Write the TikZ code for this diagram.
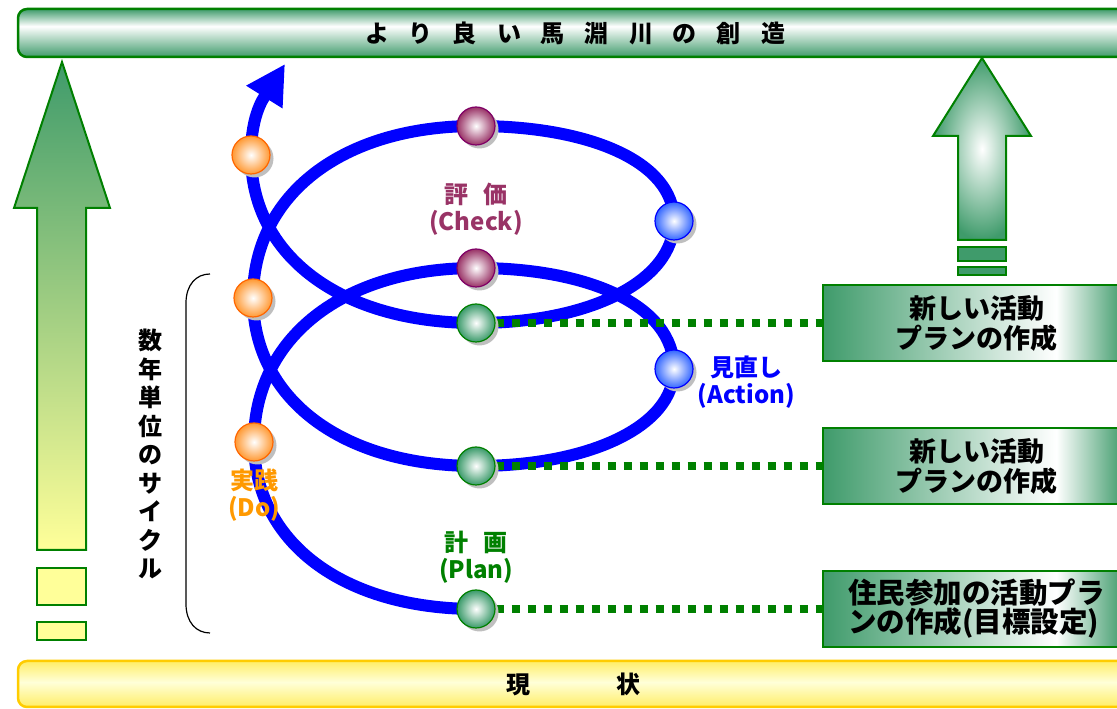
\documentclass[tikz,border=0pt]{standalone}
\usepackage{fontspec}
\setmainfont{Noto Sans CJK JP}
\usetikzlibrary{arrows.meta,positioning,shadows}

\definecolor{leaf}{HTML}{3F9B6B}
\definecolor{rim}{HTML}{008000}
\definecolor{lemon}{HTML}{FFFF99}
\definecolor{gold}{HTML}{FFCC00}
\definecolor{butter}{HTML}{FFEE66}
\definecolor{spiral}{HTML}{0000FF}
\definecolor{dofill}{HTML}{FF9933}
\definecolor{doedge}{HTML}{FF6600}
\definecolor{ckfill}{HTML}{993366}
\definecolor{ckedge}{HTML}{800066}
\definecolor{acfill}{HTML}{3366FF}
\definecolor{acedge}{HTML}{0000FF}
\definecolor{plfill}{HTML}{3A9A6A}
\definecolor{pledge}{HTML}{008000}
\definecolor{dotext}{HTML}{FF9900}

\pgfdeclareverticalshading{goalfade}{100bp}{color(0bp)=(leaf); color(25bp)=(leaf); color(57bp)=(white); color(75bp)=(leaf); color(100bp)=(leaf)}
\pgfdeclareverticalshading{nowfade}{100bp}{color(0bp)=(butter); color(25bp)=(butter); color(52bp)=(white!85!yellow); color(75bp)=(butter); color(100bp)=(butter)}
\pgfdeclarehorizontalshading{planfade}{100bp}{color(0bp)=(leaf); color(25bp)=(leaf); color(63bp)=(white); color(74bp)=(leaf); color(100bp)=(leaf)}

\pgfdeclarelayer{bg}
\pgfdeclarelayer{mid}
\pgfsetlayers{bg,mid,main}

\newcommand{\tgap}{\hspace{20pt}}

\tikzset{
  goalbar/.style={draw=rim, line width=2.5pt, rounded corners=9pt, shading=goalfade, minimum width=1114pt, minimum height=48pt, inner sep=0pt, font=\bfseries\fontsize{24}{28}\selectfont},
  nowbar/.style={draw=gold, line width=2.5pt, rounded corners=9pt, shading=nowfade, minimum width=1110pt, minimum height=46pt, inner sep=0pt, font=\bfseries\fontsize{24}{28}\selectfont},
  planbox/.style={draw=rim, line width=2pt, shading=planfade, minimum width=307pt, minimum height=76pt, inner sep=0pt, align=center, font=\bfseries\fontsize{27}{30}\selectfont},
  ball/.style={circle, minimum size=38pt, inner sep=0pt, line width=1.2pt, drop shadow={shadow xshift=3.5pt, shadow yshift=-3.5pt, fill=black!25, opacity=1}},
  doball/.style={ball, draw=doedge, inner color=white, outer color=dofill},
  ckball/.style={ball, draw=ckedge, inner color=white, outer color=ckfill},
  acball/.style={ball, draw=acedge, inner color=white, outer color=acfill},
  plball/.style={ball, draw=pledge, inner color=white, outer color=plfill},
  tag/.style={inner sep=1pt, align=center, font=\bfseries\fontsize{24}{27}\selectfont},
  coil/.style={draw=spiral, line width=12pt},
  dots/.style={draw=rim, line width=8pt, dash pattern=on 8pt off 8pt},
  bigarrow/.style={draw=rim, line width=2pt, line join=miter}
}

\begin{document}
\begin{tikzpicture}[x=1pt,y=1pt]
  \useasboundingbox (0,0) rectangle (1117,709);
  \clip (0,0) rectangle (1117,709);

  % goal and present state
  \node[goalbar] (goal) at (575,676) {よ\tgap り\tgap 良\tgap い\tgap 馬\tgap 淵\tgap 川\tgap の\tgap 創\tgap 造};
  \node[nowbar] (now) at (573,25) {現\hspace{86pt}状};

  % left arrow
  \draw[bigarrow, top color=leaf, bottom color=lemon] (62,647) -- (110,501) -- (86,501) -- (86,159) -- (37,159) -- (37,501) -- (14,501) -- cycle;
  \draw[bigarrow, fill=lemon] (37,104) rectangle (86,141);
  \draw[bigarrow, fill=lemon] (37,69) rectangle (86,87);

  % right arrow
  \draw[bigarrow, inner color=white, outer color=leaf] (982,651) -- (1031,573) -- (1006,573) -- (1006,469) -- (958,469) -- (958,573) -- (933,573) -- cycle;
  \draw[bigarrow, fill=leaf] (958,448) rectangle (1006,462);
  \draw[bigarrow, fill=leaf] (958,434) rectangle (1006,442);

  % plan boxes
  \node[planbox] (plan1) at (976.5,386) {新しい活動\\プランの作成};
  \node[planbox] (plan2) at (976.5,243) {新しい活動\\プランの作成};
  \node[planbox, align=left, font=\bfseries\fontsize{28.5}{29}\selectfont] (plan3) at (976.5,100) {住民参加の活動プラ\\ンの作成(目標設定)};

  % cycle bracket
  \draw[line width=1.2pt] (210,435) .. controls (196,435) and (186,424) .. (186,406) -- (186,105) .. controls (186,87) and (196,76) .. (210,76);
  \node[font=\bfseries\fontsize{24}{28.5}\selectfont, align=center, inner sep=0pt] (span) at (150,255) {数\\年\\単\\位\\の\\サ\\イ\\ク\\ル};

  % balls
  \node[doball] (o1) at (251,554) {};
  \node[doball] (o2) at (253,411) {};
  \node[doball] (o3) at (254,267) {};
  \node[ckball] (p1) at (476,583) {};
  \node[ckball] (p2) at (476,441) {};
  \node[acball] (b1) at (674,488) {};
  \node[acball] (b2) at (674,340) {};
  \node[plball] (g1) at (476,386) {};
  \node[plball] (g2) at (476,243) {};
  \node[plball] (g3) at (476,100) {};
  \coordinate (tip) at (285,645);

  % labels
  \node[tag, text=ckfill, below=36pt of p1] (check) {評\hspace{16pt}価\\(Check)};
  \node[tag, text=spiral, right=3pt of b2, yshift=-13pt] (action) {見直し\\(Action)};
  \node[tag, text=dotext, below=6pt of o3] (do) {実践\\(Do)};
  \node[tag, text=rim, above=5pt of g3] (plan) {計\hspace{16pt}画\\(Plan)};

  % spiral
  \begin{pgfonlayer}{bg}
    \draw[coil, -{Triangle[length=39pt,width=40pt]}] (g3.center)
      .. controls +(-133,0) and +(0,-100) .. (o3.center)
      .. controls +(0,104) and +(-133,0) .. (p2.center)
      .. controls +(112,0) and +(0,64) .. (b2.center)
      .. controls +(0,-58) and +(112,0) .. (g2.center)
      .. controls +(-134,0) and +(0,-101) .. (o2.center)
      .. controls +(0,103) and +(-134,0) .. (p1.center)
      .. controls +(112,0) and +(0,60) .. (b1.center)
      .. controls +(0,-61) and +(112,0) .. (g1.center)
      .. controls +(-135,0) and +(0,-101) .. (o1.center)
      .. controls +(0,42) and +(-20,-32) .. (tip);
  \end{pgfonlayer}

  % dotted links
  \begin{pgfonlayer}{mid}
    \draw[dots] (g1.east) -- (g1.east -| plan1.west);
    \draw[dots] (g2.east) -- (g2.east -| plan2.west);
    \draw[dots] (g3.east) -- (g3.east -| plan3.west);
  \end{pgfonlayer}
\end{tikzpicture}
\end{document}
